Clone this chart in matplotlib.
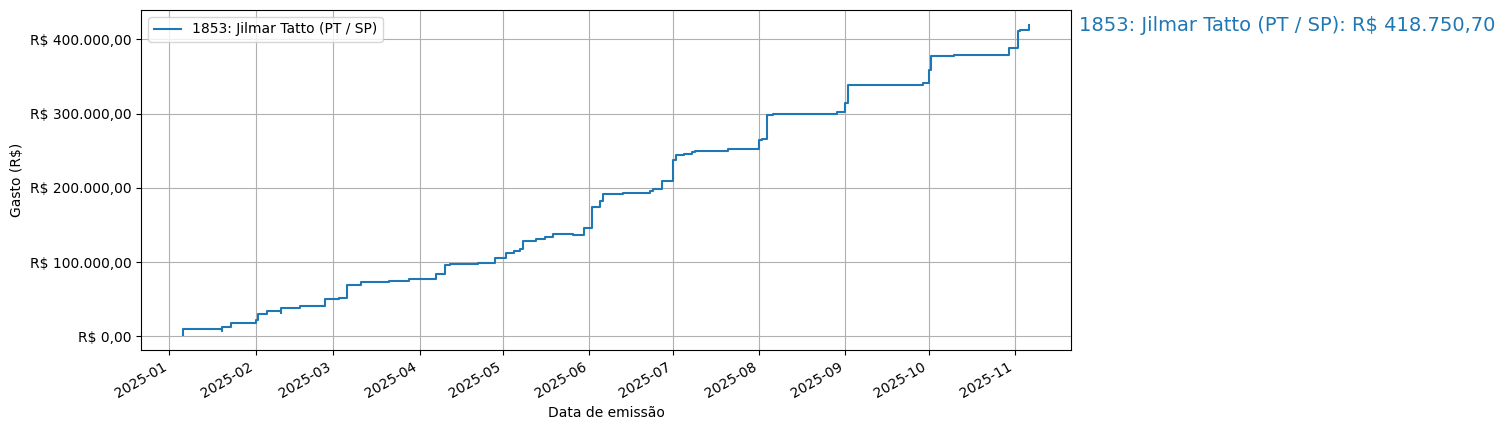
import numpy as np
import pandas as pd
import matplotlib
matplotlib.use("Agg")
import matplotlib.pyplot as plt
import matplotlib.dates as mdates
from matplotlib.ticker import FuncFormatter

# --- data (cumulative spending, R$) ---
label = "1853: Jilmar Tatto (PT / SP)"
total_text = "R$ 418.750,70"

dates = [
    "2025-01-06", "2025-01-06", "2025-01-20", "2025-01-20", "2025-01-23",
    "2025-02-01", "2025-02-02", "2025-02-05", "2025-02-10", "2025-02-10",
    "2025-02-17", "2025-02-26", "2025-03-03", "2025-03-06", "2025-03-11",
    "2025-03-21", "2025-03-28", "2025-04-07", "2025-04-10", "2025-04-12",
    "2025-04-22", "2025-04-28", "2025-05-02", "2025-05-05", "2025-05-07",
    "2025-05-08", "2025-05-13", "2025-05-16", "2025-05-19", "2025-05-26",
    "2025-05-30", "2025-06-02", "2025-06-05", "2025-06-06", "2025-06-13",
    "2025-06-23", "2025-06-24", "2025-06-27", "2025-07-01", "2025-07-02",
    "2025-07-05", "2025-07-08", "2025-07-09", "2025-07-21", "2025-08-01",
    "2025-08-02", "2025-08-04", "2025-08-06", "2025-08-29", "2025-09-01",
    "2025-09-02", "2025-09-29", "2025-10-01", "2025-10-02", "2025-10-10",
    "2025-10-30", "2025-11-02", "2025-11-03", "2025-11-06",
]
cumulative = [
    2300, 9400, 7100, 12500, 18400,
    21500, 30500, 34100, 31900, 37700,
    40800, 50200, 51600, 69100, 72700,
    74100, 76800, 84400, 96000, 97900,
    98700, 105000, 111800, 114500, 117200,
    128900, 130600, 133300, 137800, 136400,
    145900, 174100, 182200, 191600, 193000,
    195700, 198000, 209200, 238000, 243800,
    245500, 248200, 249600, 252000, 264000,
    265700, 297600, 299400, 301700, 314200,
    338400, 341200, 358200, 377500, 379400,
    388800, 411200, 413000, 418750.70,
]

x = pd.to_datetime(dates)


def brl(v, pos=None):
    s = f"{v:,.2f}".replace(",", "X").replace(".", ",").replace("X", ".")
    return f"R$ {s}"


fig, ax = plt.subplots(figsize=(15.05, 4.3), dpi=100)
ax.step(x, cumulative, where="post", label=label)

ax.annotate(f"{label}: {total_text}", xy=(1.0, cumulative[-1]),
            xycoords=("axes fraction", "data"), xytext=(6, 0),
            textcoords="offset points", va="center", ha="left",
            fontsize=14, color="C0")

ax.yaxis.set_major_formatter(FuncFormatter(brl))
ax.xaxis.set_major_locator(mdates.MonthLocator())
ax.xaxis.set_major_formatter(mdates.DateFormatter("%Y-%m"))
ax.set_xlabel("Data de emissão")
ax.set_ylabel("Gasto (R$)")
ax.grid(True)
ax.legend(loc="upper left")
fig.autofmt_xdate()

fig.subplots_adjust(left=141 / 1505, right=1071 / 1505,
                    top=1 - 10 / 430, bottom=1 - 350 / 430)
fig.savefig("out.png", dpi=100)
